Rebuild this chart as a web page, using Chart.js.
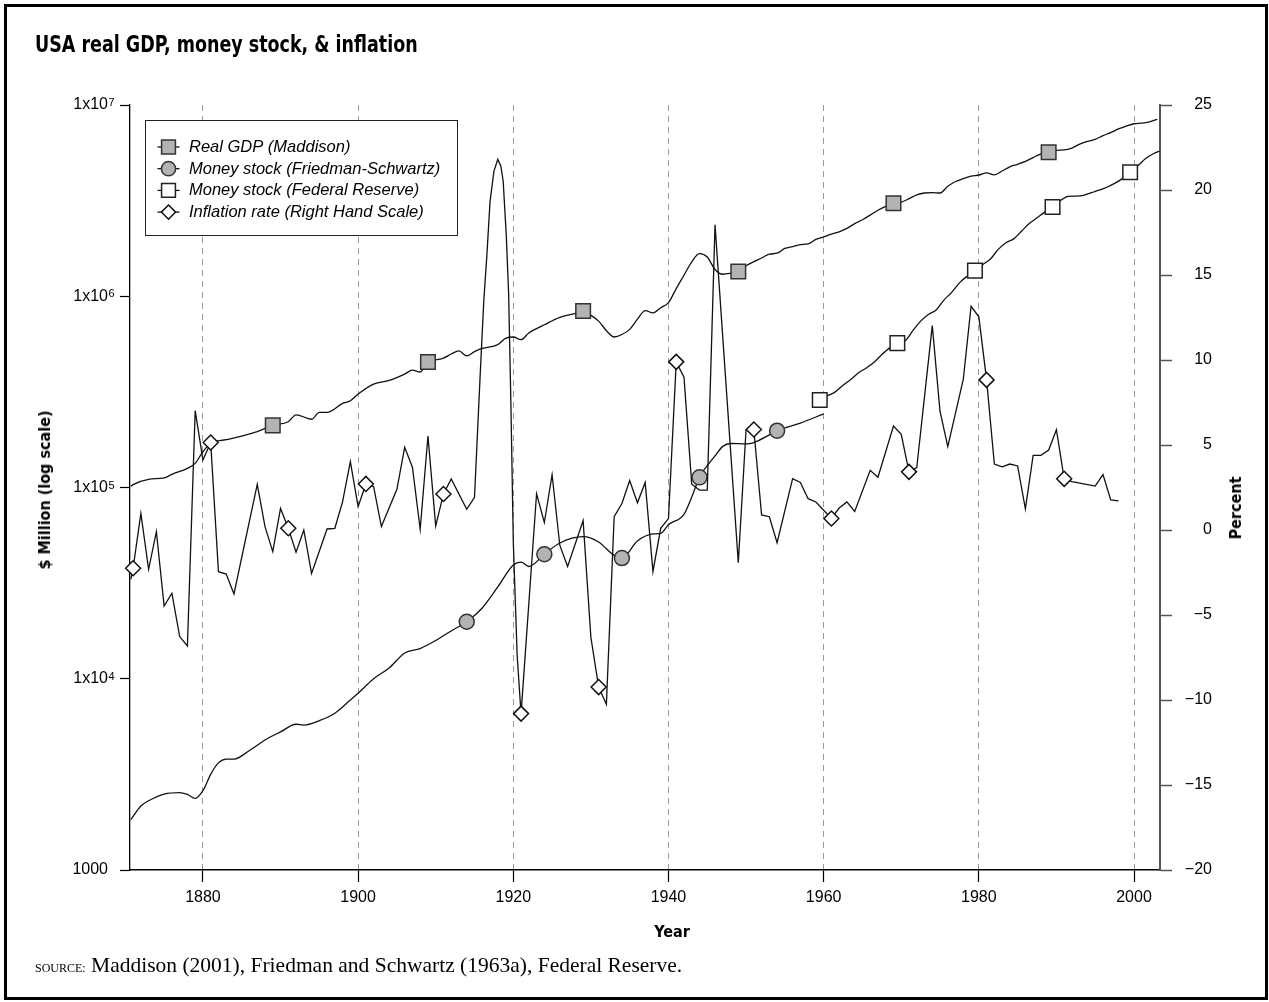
<!DOCTYPE html>
<html>
<head>
<meta charset="utf-8">
<script src="https://cdn.jsdelivr.net/npm/chart.js@4.4.1/dist/chart.umd.min.js"></script>
<style>
html,body{margin:0;padding:0;background:#fff;}
#wrap{position:relative;width:1269px;height:1002px;overflow:hidden;background:#fff;}
#frame{position:absolute;left:4px;top:4px;width:1264px;height:996px;box-sizing:border-box;border:3px solid #000;pointer-events:none;}
canvas{position:absolute;left:0;top:0;}
.cond{font-family:'Liberation Sans Narrow','DejaVu Sans','Roboto',sans-serif;font-stretch:condensed;font-weight:bold;color:#000;line-height:1;white-space:nowrap;position:absolute;}
#title{left:35px;top:33px;font-size:23px;transform-origin:0 50%;}
#ytitle{left:45px;top:490px;font-size:16px;transform:translate(-50%,-50%) rotate(-90deg);}
#y2title{left:1236px;top:508px;font-size:16px;transform:translate(-50%,-50%) rotate(-90deg);}
#xtitle{left:572px;width:200px;text-align:center;top:924px;font-size:16px;}
#source{position:absolute;left:35px;top:955px;font-family:'Liberation Serif','Times New Roman',serif;font-size:21.5px;line-height:1;white-space:nowrap;color:#000;}
#source .sc{font-size:12px;}
</style>
</head>
<body>
<div id="wrap">
<canvas id="c" width="1269" height="1002" style="width:1269px;height:1002px"></canvas>
<div id="title" class="cond">USA real GDP, money stock, &amp; inflation</div>
<div id="ytitle" class="cond">$ Million (log scale)</div>
<div id="y2title" class="cond">Percent</div>
<div id="xtitle" class="cond">Year</div>
<div id="source"><span class="sc">SOURCE:</span> Maddison (2001), Friedman and Schwartz (1963a), Federal Reserve.</div>
<div id="frame"></div>
</div>
<script>
// ---------- axis ticks ----------
const xTickYears = [1880, 1900, 1920, 1940, 1960, 1980, 2000];
const leftTickValues = [1000, 10000, 100000, 1000000, 10000000];
const leftTickBases = ['1000', '1x10', '1x10', '1x10', '1x10'];
const leftTickExponents = ['', '4', '5', '6', '7'];
const rightTickValues = [-20, -15, -10, -5, 0, 5, 10, 15, 20, 25];
const rightTickLabels = ['\u221220', '\u221215', '\u221210', '\u22125', '0', '5', '10', '15', '20', '25'];

// ---------- Real GDP (Maddison), $ million ----------
const gdpYears = [1870.7,1871,1873,1875,1876,1878,1879,1880,1881,1883,1885,1887,1889,1891,1892,1894,1895,1896,1898,1899,
  1900,1902,1904,1906,1907,1908,1909,1910,1911,1912,1913,1914,1915,1916,1918,1919,1920,1921,1922,1924,1926,1928,1929,
  1930,1931,1932,1933,1934,1935,1936,1937,1938,1939,1940,1941,1942,1943,1944,1945,1946,1947,1948,1949,
  1950,1951,1952,1953,1954,1955,1956,1957,1958,1959,1960,1961,1962,1963,1964,1965,1966,1967,1968,1969,
  1970,1971,1972,1973,1974,1975,1976,1977,1978,1979,1980,1981,1982,1983,1984,1985,1986,1987,1988,1989,
  1990,1991,1992,1993,1994,1995,1996,1997,1998,1999,2000,2001,2002,2003];
const gdpValues = [101200,103500,110400,112200,117200,125900,133700,153800,170200,177800,185800,195900,211300,220800,239900,227500,247200,247200,275400,284400,
  308300,347500,363100,391700,411100,401800,452900,464500,475300,498900,517600,487500,512900,533300,558500,602600,612300,592900,642700,709600,776200,812800,837500,
  794300,741300,660700,612300,631000,671400,758600,841400,818400,871000,926800,1096500,1288000,1513600,1671000,1603000,1380000,1303000,1318000,1346000,
  1445000,1517000,1585000,1660000,1679000,1778000,1820000,1862000,1879000,1982000,2042000,2113000,2173000,2265000,2399000,2512000,2655000,2818000,2951000,3062000,
  3105000,3236000,3388000,3467000,3483000,3467000,3758000,3981000,4121000,4246000,4305000,4416000,4315000,4519000,4753000,4898000,5070000,5309000,5559000,5662000,
  5794000,5821000,5957000,6237000,6457000,6607000,6918000,7178000,7499000,7762000,7980000,8035000,8166000,8414000];
const gdpMarkerYears = [1889, 1909, 1929, 1949, 1969, 1989];

// ---------- Money stock (Friedman-Schwartz), $ million ----------
const fsYears = [1870.7,1872,1873,1875,1877,1878,1879,1880,1881,1882,1883,1884,1886,1888,1890,1892,1893,1895,1897,1899,
  1900,1902,1904,1906,1908,1910,1912,1914,1916,1918,1920,1921,1922,1924,1926,1929,1931,1933,1934,1936,1938,1939,
  1940,1942,1943,1944,1946,1947,1948,1950,1951,1953,1954,1957,1960];
const fsValues = [1832,2163,2301,2495,2541,2483,2371,2600,3162,3631,3802,3802,4217,4786,5272,5781,5728,6039,6607,7745,
  8395,10000,11376,13646,14388,15849,17783,19861,23442,30200,39355,40738,38637,44771,51286,55335,51880,44157,42756,52481,57148,57544,
  63826,72444,89125,112980,146218,164059,169824,169044,171791,188365,198153,217270,242661];
const fsMarkerYears = [1914, 1924, 1934, 1944, 1954];

// ---------- Money stock (Federal Reserve), $ million ----------
const frYears = [1959.5,1960.5,1961.5,1962.5,1963.5,1964.5,1965.5,1966.5,1967.5,1968.5,1969.5,
  1970.5,1971.5,1972.5,1973.5,1974.5,1975.5,1976.5,1977.5,1978.5,1979.5,
  1980.5,1981.5,1982.5,1983.5,1984.5,1985.5,1986.5,1987.5,1988.5,1989.5,
  1990.5,1991.5,1992.5,1993.5,1994.5,1995.5,1996.5,1997.5,1998.5,1999.5,
  2000.5,2001.5,2002.5,2003.3];
const frValues = [286800,302000,316200,342800,367300,398100,421700,451900,495500,537000,568900,
  584800,660700,741300,803500,847200,955000,1047000,1175000,1274000,1361000,
  1462000,1567000,1758000,1905000,1995000,2188000,2399000,2570000,2754000,2931000,
  3162000,3327000,3342000,3373000,3483000,3589000,3715000,3890000,4121000,4446000,
  4808000,5248000,5559000,5741000];
const frMarkerYears = [1959.5, 1969.5, 1979.5, 1989.5, 1999.5];

// ---------- Inflation rate, percent (right hand scale) ----------
const inflYears = [1870.7,1871,1872,1873,1874,1875,1876,1877,1878,1879,1880,1881,1882,1883,1884,1887,1888,1889,
  1890,1891,1892,1893,1894,1896,1897,1898,1899,1900,1901,1902,1903,1905,1906,1907,1908,1909,
  1910,1911,1912,1914,1915,1915.7,1916.2,1916.6,1917,1917.5,1918,1918.4,1918.7,1919.1,1919.4,1919.7,1920,1920.5,
  1921,1923,1924,1925,1926,1927,1929,1930,1931,1932,1933,1934,1935,1936,1937,1938,1939,
  1940,1941,1942,1943,1944,1945,1946,1949,1950,1951,1952,1953,1954,1956,1957,1958,1959,
  1961,1962,1963,1964,1966,1967,1969,1970,1971,1972,1974,1975,1976,1978,1979,
  1980,1981,1982,1983,1984,1985,1986,1987,1988,1989,1990,1991,1992,1995,1996,1997,1998];
const inflValues = [-2.9,-2.25,0.98,-2.31,-0.10,-4.47,-3.72,-6.27,-6.82,7.02,4.12,5.15,-2.45,-2.59,-3.76,2.69,0.20,-1.27,
  1.27,0.10,-1.31,0.0,-2.55,0.06,0.10,1.67,4.02,1.37,2.71,2.55,0.2,2.39,4.86,3.69,0.04,5.53,
  0.24,2.12,3.0,1.22,1.92,8.8,13.5,16.2,19.3,21.1,21.8,21.4,20.5,17.3,13.9,7.2,-0.7,-7.4,
  -10.8,2.13,0.44,3.25,-0.91,-2.15,0.55,-6.31,-9.24,-10.25,0.78,1.56,2.91,1.60,2.80,-2.44,0.10,
  0.67,9.89,8.99,2.69,2.35,2.35,17.95,-1.92,5.91,5.91,0.89,0.78,-0.75,3.02,2.80,1.84,1.65,
  0.68,1.29,1.65,1.09,3.51,3.10,6.11,5.63,3.42,3.67,12.02,6.97,4.91,8.87,13.16,
  12.54,8.83,3.88,3.71,3.88,3.77,1.24,4.39,4.39,4.70,5.90,3.01,2.85,2.58,3.26,1.77,1.71];
const inflMarkerYears = [1871,1881,1891,1901,1911,1921,1931,1941,1951,1961,1971,1981,1991];

// ---------- styling ----------
const tickFont = "'Liberation Sans', Arial, Helvetica, sans-serif";
const LINE = '#111';
const GREY = '#b3b3b3';

function pts(xs, ys){ return xs.map((x,i)=>({x:x, y:ys[i]})); }
function radii(xs, marks, r){ return xs.map(x => marks.includes(x) ? r : 0); }

const seriesStyle = [
  {label:'Real GDP (Maddison)', pointStyle:'rect', radius:10.3, fill:GREY, stroke:'#333'},
  {label:'Money stock (Friedman-Schwartz)', pointStyle:'circle', radius:7.5, fill:GREY, stroke:'#333'},
  {label:'Money stock (Federal Reserve)', pointStyle:'rect', radius:10.3, fill:'#fff', stroke:'#222'},
  {label:'Inflation rate (Right Hand Scale)', pointStyle:'rectRot', radius:7.5, fill:'#fff', stroke:'#111'}
];

function ds(s, xs, ys, marks, axis, smooth, extra){
  return Object.assign({
    label: s.label,
    data: pts(xs, ys),
    yAxisID: axis,
    borderColor: LINE,
    borderWidth: 1.3,
    tension: smooth ? 0.4 : 0,
    cubicInterpolationMode: smooth ? 'monotone' : 'default',
    pointStyle: s.pointStyle,
    pointRadius: radii(xs, marks, s.radius),
    pointHoverRadius: radii(xs, marks, s.radius),
    pointBackgroundColor: s.fill,
    pointBorderColor: s.stroke,
    pointBorderWidth: 1.5,
    fill: false
  }, extra || {});
}

const legendPlugin = {
  id: 'boxLegend',
  afterDraw(chart){
    const ctx = chart.ctx;
    // exponents of the left tick labels
    const ys = chart.scales.y;
    ctx.save();
    ctx.fillStyle = '#000';
    ctx.font = '11px ' + tickFont;
    ctx.textAlign = 'left';
    ctx.textBaseline = 'alphabetic';
    leftTickValues.forEach((v, i) => {
      if (leftTickExponents[i]) {
        const py = ys.getPixelForValue(v);
        ctx.fillText(leftTickExponents[i], 108.5, py + 1);
      }
    });
    ctx.restore();

    const L = 145.5, T = 120.5, W = 312, H = 115;
    ctx.save();
    ctx.fillStyle = '#fff';
    ctx.fillRect(L, T, W, H);
    ctx.strokeStyle = '#222';
    ctx.lineWidth = 1;
    ctx.strokeRect(L, T, W, H);
    seriesStyle.forEach((s, i) => {
      const y = 147 + i * 21.7;
      const cx = 168.5;
      ctx.strokeStyle = LINE;
      ctx.lineWidth = 1.3;
      ctx.beginPath(); ctx.moveTo(cx - 11, y); ctx.lineTo(cx + 11, y); ctx.stroke();
      ctx.fillStyle = s.fill;
      ctx.strokeStyle = s.stroke;
      ctx.lineWidth = 1.5;
      Chart.helpers.drawPoint(ctx, {pointStyle: s.pointStyle, radius: s.radius * 0.95, borderWidth: 1.5, rotation: 0}, cx, y);
      ctx.fillStyle = '#000';
      ctx.font = 'italic 16.5px ' + tickFont;
      ctx.textBaseline = 'middle';
      ctx.textAlign = 'left';
      ctx.fillText(s.label, 189, y + 0.5);
    });
    ctx.restore();
  }
};

new Chart(document.getElementById('c'), {
  type: 'line',
  data: {
    datasets: [
      ds(seriesStyle[3], inflYears, inflValues, inflMarkerYears, 'y2', false, {clip: false}),
      ds(seriesStyle[0], gdpYears, gdpValues, gdpMarkerYears, 'y', true),
      ds(seriesStyle[1], fsYears, fsValues, fsMarkerYears, 'y', true),
      ds(seriesStyle[2], frYears, frValues, frMarkerYears, 'y', true)
    ]
  },
  options: {
    responsive: false,
    animation: false,
    events: [],
    layout: {padding: {left: 0, top: 105, right: 57, bottom: 0}},
    plugins: {legend: {display: false}, tooltip: {enabled: false}, title: {display: false}},
    scales: {
      x: {
        type: 'linear', position: 'bottom', min: 1870.6, max: 2003.35,
        afterBuildTicks: s => { s.ticks = xTickYears.map(v => ({value: v})); },
        afterFit: s => { s.height = 132; },
        grid: {display: true, drawOnChartArea: true, drawTicks: true, color: '#9a9a9a', lineWidth: 1,
               tickLength: 12, tickColor: '#000', tickWidth: 1.2},
        border: {display: true, color: '#000', width: 1.5, dash: [6, 5]},
        ticks: {font: {family: tickFont, size: 16}, color: '#000', padding: 6, maxRotation: 0, autoSkip: false,
                callback: (v) => String(v)}
      },
      y: {
        type: 'logarithmic', position: 'left', min: 1000, max: 10000000,
        afterBuildTicks: s => { s.ticks = leftTickValues.map(v => ({value: v})); },
        afterFit: s => { s.width = 130; },
        grid: {drawOnChartArea: false, drawTicks: true, tickLength: 10, tickColor: '#000', tickWidth: 1.2},
        border: {display: true, color: '#000', width: 1.3},
        ticks: {font: {family: tickFont, size: 16}, color: '#000', padding: 12, autoSkip: false,
                callback: (v, i) => leftTickBases[i]}
      },
      y2: {
        type: 'linear', position: 'right', min: -20, max: 25,
        afterBuildTicks: s => { s.ticks = rightTickValues.map(v => ({value: v})); },
        afterFit: s => { s.width = 52; },
        grid: {drawOnChartArea: false, drawTicks: true, tickLength: 12, tickColor: '#555', tickWidth: 1.5},
        border: {display: true, color: '#555', width: 2},
        ticks: {font: {family: tickFont, size: 16}, color: '#000', padding: 8, crossAlign: 'far', autoSkip: false,
                callback: (v, i) => rightTickLabels[i]}
      }
    }
  },
  plugins: [legendPlugin]
});

// fit the condensed title to the width it has in the reference
function fitTitle(){
  const t = document.getElementById('title');
  const w = t.offsetWidth;
  if (w > 0) t.style.transform = 'scaleX(' + (383 / w) + ')';
}
fitTitle();
if (document.fonts && document.fonts.ready) document.fonts.ready.then(fitTitle);
</script>
</body>
</html>
